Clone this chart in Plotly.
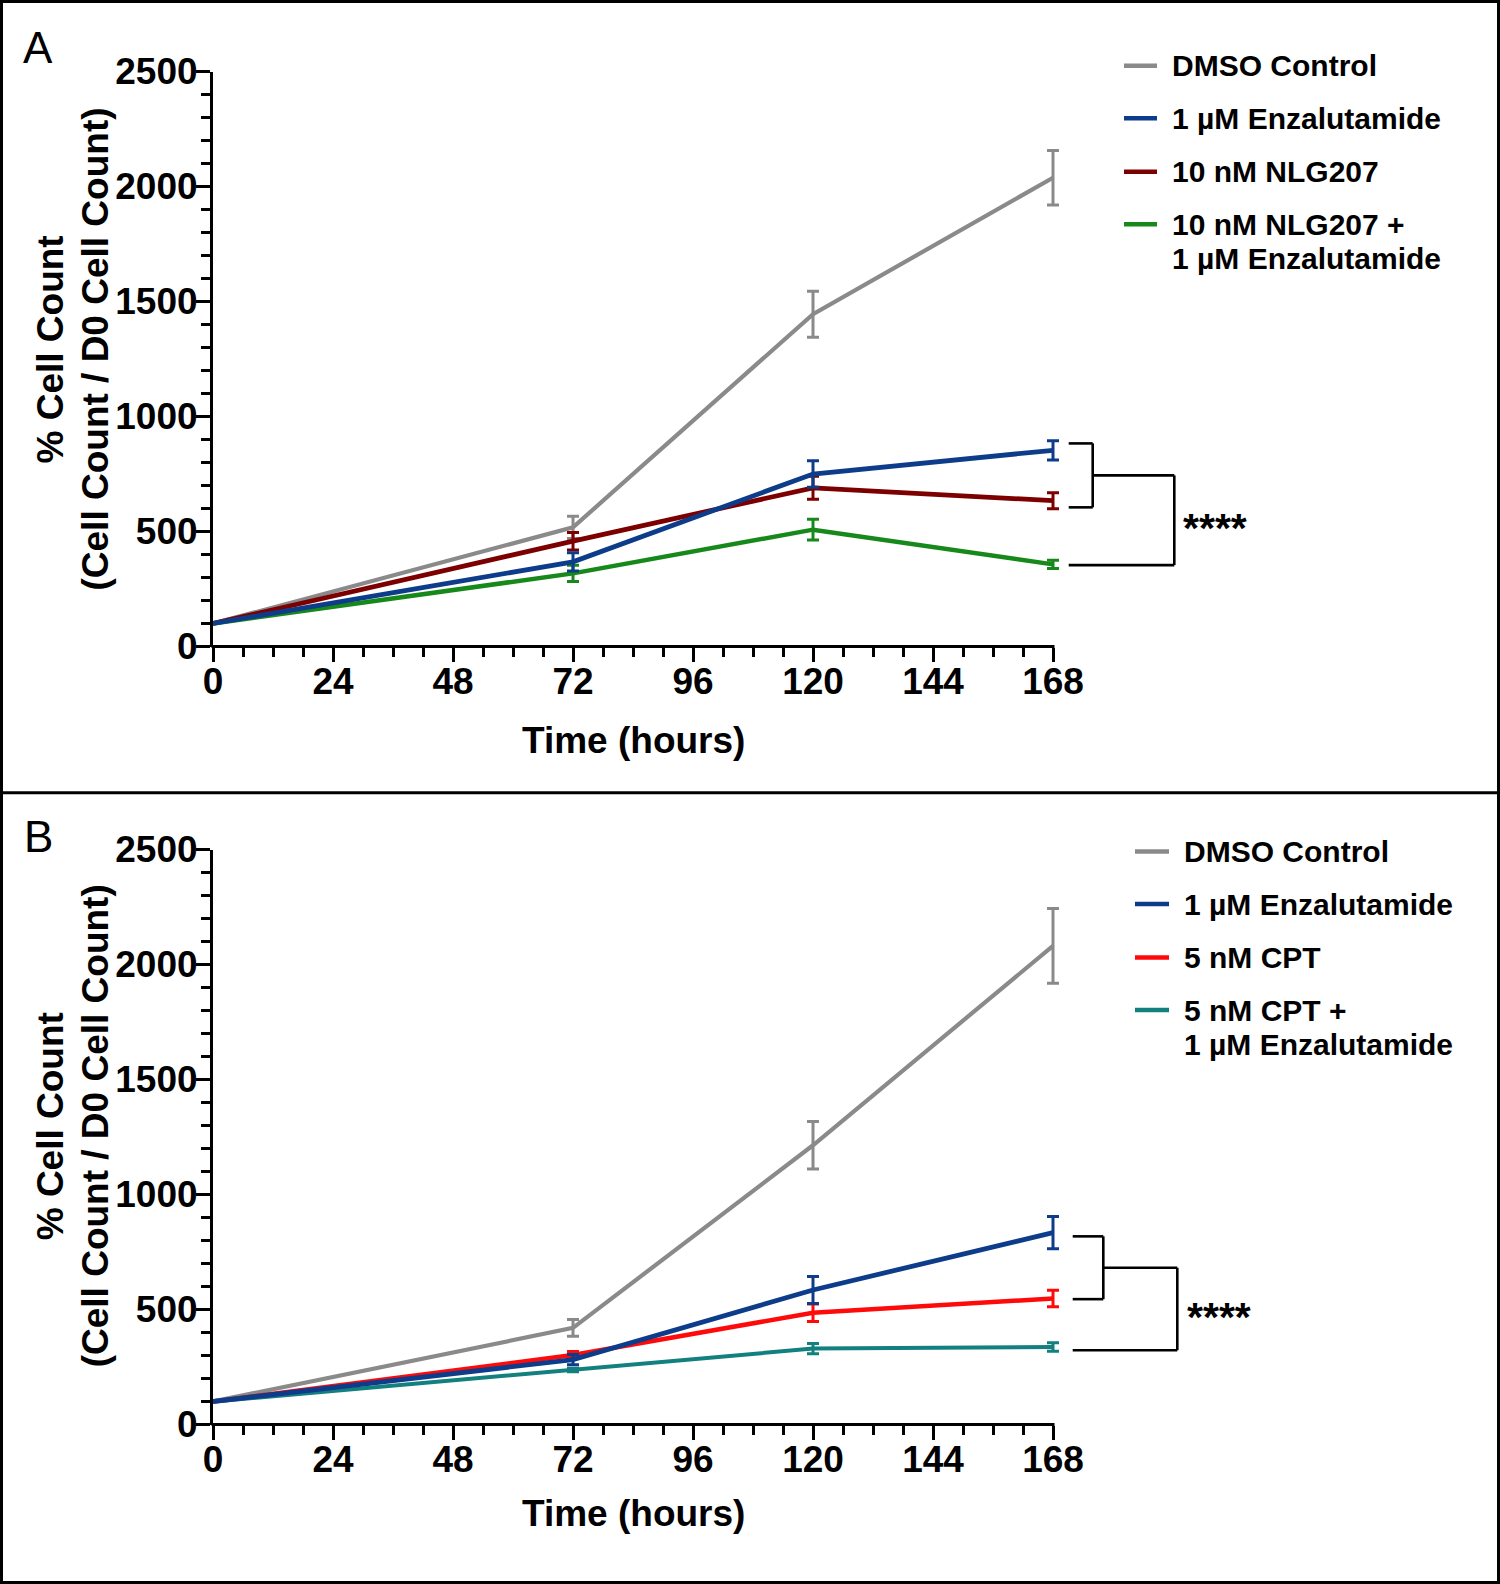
import plotly.graph_objects as go

# ---------------- data ----------------
hours = [0, 72, 120, 168]

# Panel A
a_labels = ["DMSO Control", "1 µM Enzalutamide", "10 nM NLG207", "10 nM NLG207 +<br>1 µM Enzalutamide"]
a_colors = ["#8a8a8a", "#0d3d8a", "#7d0000", "#17891a"]
a_dmso = [100, 518, 1445, 2038]
a_dmso_err = [0, 48, 100, 118]
a_enz = [100, 368, 750, 853]
a_enz_err = [0, 40, 58, 42]
a_nlg = [100, 458, 690, 634]
a_nlg_err = [0, 38, 50, 35]
a_combo = [100, 318, 508, 357]
a_combo_err = [0, 35, 45, 18]

# Panel B
b_labels = ["DMSO Control", "1 µM Enzalutamide", "5 nM CPT", "5 nM CPT +<br>1 µM Enzalutamide"]
b_colors = ["#8a8a8a", "#0d3d8a", "#ff0a0a", "#12807e"]
b_dmso = [100, 420, 1214, 2081]
b_dmso_err = [0, 36, 103, 162]
b_enz = [100, 282, 585, 834]
b_enz_err = [0, 22, 59, 70]
b_cpt = [100, 302, 486, 548]
b_cpt_err = [0, 15, 38, 36]
b_combo = [100, 237, 330, 337]
b_combo_err = [0, 8, 22, 18]

# significance brackets (y values: small top, small bottom, big bottom)
a_bracket = [883, 605, 354]
b_bracket = [818, 545, 323]
sig_text = "****"

x_ticks = [0, 24, 48, 72, 96, 120, 144, 168]
y_ticks = [0, 500, 1000, 1500, 2000, 2500]

# ---------------- layout helpers ----------------
W, H = 1500, 1584
FONT = "Liberation Sans, Arial, sans-serif"
X_MAX = 168
X_PAD = 2  # extra hours so end-point error caps are not clipped


def px(p):
    return p / W


def py(p):
    return 1 - p / H


X0_PX, X168_PX = 213, 1053
x_dom = [px(X0_PX), px(X168_PX + (X168_PX - X0_PX) / X_MAX * X_PAD)]
a_dom = [py(646.5), py(71.5)]
b_dom = [py(1424.5), py(849.5)]


def val_y(v, dom):
    return dom[0] + v / 2500 * (dom[1] - dom[0])


fig = go.Figure()


def add_series(y, err, color, xa, ya, width):
    fig.add_trace(go.Scatter(
        x=hours, y=y, mode="lines", xaxis=xa, yaxis=ya,
        line=dict(color=color, width=width),
        error_y=dict(type="data", array=err, visible=True, color=color, thickness=3, width=6),
        cliponaxis=False, showlegend=False, hoverinfo="x+y"))


# panel A (draw order: gray, maroon, green, blue)
add_series(a_dmso, a_dmso_err, a_colors[0], "x", "y", 4.2)
add_series(a_nlg, a_nlg_err, a_colors[2], "x", "y", 4.8)
add_series(a_combo, a_combo_err, a_colors[3], "x", "y", 4.5)
add_series(a_enz, a_enz_err, a_colors[1], "x", "y", 4.8)
# panel B
add_series(b_dmso, b_dmso_err, b_colors[0], "x2", "y2", 4.2)
add_series(b_combo, b_combo_err, b_colors[3], "x2", "y2", 4.0)
add_series(b_cpt, b_cpt_err, b_colors[2], "x2", "y2", 4.5)
add_series(b_enz, b_enz_err, b_colors[1], "x2", "y2", 4.8)

tickfont = dict(family=FONT, size=37, color="black", weight="bold")

xaxis_common = dict(
    range=[0, X_MAX + X_PAD], tickmode="array", tickvals=x_ticks, ticks="outside", ticklen=14, tickwidth=3,
    tickcolor="black", showline=False, showgrid=False, zeroline=False,
    minor=dict(tickmode="array", tickvals=[v for v in range(0, X_MAX + 1, 6) if v % 24],
               ticks="outside", ticklen=9, tickwidth=3, tickcolor="black", showgrid=False),
    tickfont=tickfont, domain=x_dom, fixedrange=True, automargin=False, ticklabelstandoff=-12)
yaxis_common = dict(
    range=[0, 2500], tickmode="array", tickvals=y_ticks, ticks="outside", ticklen=14, tickwidth=3,
    tickcolor="black", showline=True, linewidth=3, linecolor="black", showgrid=False, zeroline=False,
    minor=dict(dtick=100, tick0=0, ticks="outside", ticklen=9, tickwidth=3, tickcolor="black", showgrid=False),
    tickfont=tickfont, fixedrange=True, automargin=False, ticklabelstandoff=-9)

fig.update_layout(
    width=W, height=H, margin=dict(l=0, r=0, t=0, b=0, pad=0, autoexpand=False),
    paper_bgcolor="white", plot_bgcolor="white",
    xaxis=dict(xaxis_common, anchor="y"),
    yaxis=dict(yaxis_common, anchor="x", domain=a_dom),
    xaxis2=dict(xaxis_common, anchor="y2"),
    yaxis2=dict(yaxis_common, anchor="x2", domain=b_dom),
    showlegend=False,
)

shapes = []
annots = []

# x axis lines (stop at 168 h)
for dom in (a_dom, b_dom):
    shapes.append(dict(type="line", xref="paper", yref="paper", x0=px(X0_PX - 1.5), x1=px(X168_PX + 1.5),
                       y0=dom[0], y1=dom[0], line=dict(color="black", width=3)))

# frame and divider
shapes.append(dict(type="rect", xref="paper", yref="paper", x0=px(1.5), x1=px(1498.5), y0=py(1582.5), y1=py(1.5),
                   line=dict(color="black", width=3)))
shapes.append(dict(type="line", xref="paper", yref="paper", x0=0, x1=1, y0=py(792.7), y1=py(792.7),
                   line=dict(color="black", width=3)))

# panel letters
for letter, yy in [("A", 47.5), ("B", 836.7)]:
    annots.append(dict(text=letter, xref="paper", yref="paper", x=px(38), y=py(yy), showarrow=False,
                       xanchor="center", yanchor="middle", font=dict(family=FONT, size=44, color="black")))

title_font = dict(family=FONT, size=37, color="black", weight="bold")
# axis titles
for yy in [740.4, 1513]:
    annots.append(dict(text="Time (hours)", xref="paper", yref="paper", x=px(633), y=py(yy), showarrow=False,
                       xanchor="center", yanchor="middle", font=title_font))
for yc in [349.5, 1126.3]:
    annots.append(dict(text="% Cell Count", xref="paper", yref="paper", x=px(50), y=py(yc), showarrow=False,
                       textangle=-90, xanchor="center", yanchor="middle", font=title_font))
    annots.append(dict(text="(Cell Count / D0 Cell Count)", xref="paper", yref="paper", x=px(95), y=py(yc),
                       showarrow=False, textangle=-90, xanchor="center", yanchor="middle", font=title_font))

# legends (manual)
leg_font = dict(family=FONT, size=30, color="black", weight="bold")


def add_legend(labels, colors, x_line0, x_line1, x_text, y_rows, line_gap):
    for lab, col, yr in zip(labels, colors, y_rows):
        shapes.append(dict(type="line", xref="paper", yref="paper", x0=px(x_line0), x1=px(x_line1),
                           y0=py(yr), y1=py(yr), line=dict(color=col, width=4.5)))
        for k, part in enumerate(lab.split("<br>")):
            annots.append(dict(text=part, xref="paper", yref="paper", x=px(x_text), y=py(yr + k * line_gap),
                               showarrow=False, xanchor="left", yanchor="middle", font=leg_font))


add_legend(a_labels, a_colors, 1124, 1157, 1170, [65.7, 118.2, 171.7, 224.2], 34.4)
add_legend(b_labels, b_colors, 1135, 1169, 1182, [851.5, 904, 957.6, 1010], 34.4)


# brackets
def add_bracket(vals, dom, x_start, x_small, x_big, x_text):
    top, bot, big_bot = vals
    mid = (top + bot) / 2
    lw = dict(color="black", width=2.6)
    ys = lambda v: val_y(v, dom)
    shapes.append(dict(type="line", xref="paper", yref="paper", x0=px(x_start), x1=px(x_small), y0=ys(top), y1=ys(top), line=lw))
    shapes.append(dict(type="line", xref="paper", yref="paper", x0=px(x_start), x1=px(x_small), y0=ys(bot), y1=ys(bot), line=lw))
    shapes.append(dict(type="line", xref="paper", yref="paper", x0=px(x_small), x1=px(x_small), y0=ys(bot), y1=ys(top), line=lw))
    shapes.append(dict(type="line", xref="paper", yref="paper", x0=px(x_small), x1=px(x_big), y0=ys(mid), y1=ys(mid), line=lw))
    shapes.append(dict(type="line", xref="paper", yref="paper", x0=px(x_big), x1=px(x_big), y0=ys(big_bot), y1=ys(mid), line=lw))
    shapes.append(dict(type="line", xref="paper", yref="paper", x0=px(x_start), x1=px(x_big), y0=ys(big_bot), y1=ys(big_bot), line=lw))
    annots.append(dict(text=sig_text, xref="paper", yref="paper", x=px(x_text), y=ys((mid + big_bot) / 2),
                       yshift=-8, showarrow=False, xanchor="left", yanchor="middle",
                       font=dict(family=FONT, size=41, color="black", weight="bold")))


add_bracket(a_bracket, a_dom, 1068.7, 1092.7, 1174.3, 1181)
add_bracket(b_bracket, b_dom, 1072.7, 1103.3, 1177.3, 1184.5)

fig.update_layout(shapes=shapes, annotations=annots)
fig.write_html("out.html", config={"displayModeBar": False},
               post_script="document.body.style.margin='0';document.body.style.overflow='hidden';")
